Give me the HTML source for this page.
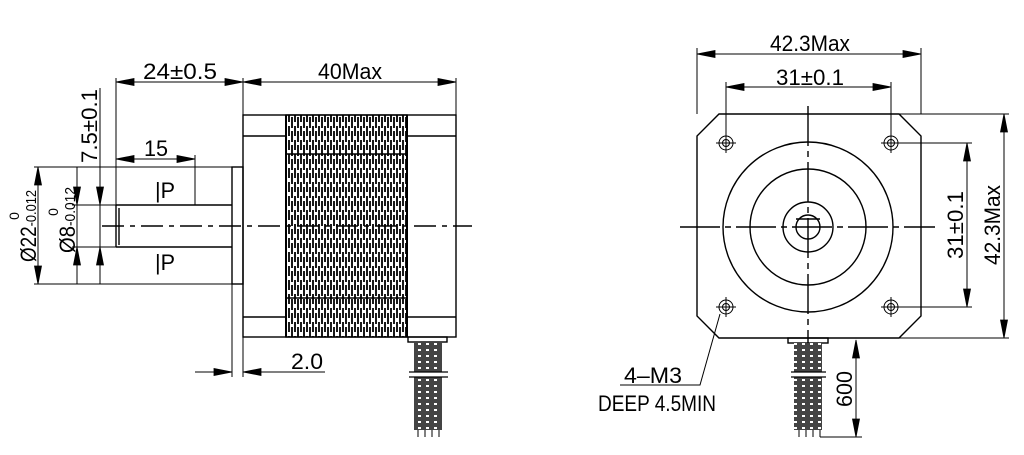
<!DOCTYPE html>
<html><head><style>body{margin:0;background:#fff}svg{display:block}text{font-family:"Liberation Sans",sans-serif;fill:#000}</style></head><body>
<svg width="1024" height="455" viewBox="0 0 1024 455" xmlns="http://www.w3.org/2000/svg">
<defs>
<pattern id="lam" width="6" height="14" patternUnits="userSpaceOnUse">
<line x1="1" y1="0" x2="1" y2="10" stroke="#000" stroke-width="1.8"/>
<line x1="4" y1="5" x2="4" y2="14" stroke="#000" stroke-width="1.8"/>
<line x1="4" y1="0" x2="4" y2="2" stroke="#000" stroke-width="1.8"/>
</pattern>
<pattern id="wire" width="8" height="6" patternUnits="userSpaceOnUse">
<rect width="8" height="6" fill="#444"/><rect x="2" y="1" width="3" height="2" fill="#fff"/>
</pattern>
</defs>
<g stroke="#000" stroke-width="1.4" fill="none">
<rect x="243" y="115" width="213" height="222"/>
<rect x="286" y="115" width="121" height="222" fill="url(#lam)"/>
<line x1="286" y1="115" x2="286" y2="337" stroke-width="2"/>
<line x1="407" y1="115" x2="407" y2="337" stroke-width="2"/>
<line x1="243" y1="136" x2="286" y2="136"/><line x1="407" y1="136" x2="456" y2="136"/>
<line x1="243" y1="317" x2="286" y2="317"/><line x1="407" y1="317" x2="456" y2="317"/>
<line x1="286" y1="154" x2="407" y2="154"/><line x1="286" y1="298" x2="407" y2="298"/>
<rect x="232" y="167" width="11" height="117"/>
<line x1="116" y1="205" x2="232" y2="205"/><line x1="116" y1="247" x2="232" y2="247"/>
<line x1="116" y1="205" x2="116" y2="247"/><line x1="119" y1="208" x2="119" y2="245"/>
<line x1="102" y1="226" x2="472" y2="226" stroke-dasharray="22,6,5,6"/>
<line x1="116" y1="78" x2="116" y2="205" stroke-width="1"/>
<line x1="243" y1="78" x2="243" y2="115" stroke-width="1"/>
<line x1="456" y1="78" x2="456" y2="115" stroke-width="1"/>
<line x1="116" y1="82" x2="456" y2="82" stroke-width="1"/>
<line x1="195" y1="155" x2="195" y2="205" stroke-width="1"/>
<line x1="116" y1="159" x2="195" y2="159" stroke-width="1"/>
<line x1="34" y1="167" x2="232" y2="167" stroke-width="1"/>
<line x1="34" y1="284" x2="232" y2="284" stroke-width="1"/>
<line x1="72" y1="205" x2="116" y2="205" stroke-width="1"/>
<line x1="72" y1="247" x2="116" y2="247" stroke-width="1"/>
<line x1="38" y1="167" x2="38" y2="284" stroke-width="1"/>
<line x1="77" y1="167" x2="77" y2="284" stroke-width="1"/>
<line x1="100" y1="88" x2="100" y2="284" stroke-width="1"/>
<line x1="232" y1="284" x2="232" y2="377" stroke-width="1"/>
<line x1="243" y1="337" x2="243" y2="377" stroke-width="1"/>
<line x1="195" y1="372" x2="232" y2="372" stroke-width="1"/>
<line x1="325" y1="372" x2="243" y2="372" stroke-width="1"/>
<rect x="408" y="337" width="39" height="5"/>
<rect x="414" y="342" width="28" height="88" fill="url(#wire)" stroke="none"/>
<g stroke-width="1"><line x1="418" y1="430" x2="418" y2="437"/><line x1="425" y1="430" x2="425" y2="437"/><line x1="432" y1="430" x2="432" y2="437"/><line x1="439" y1="430" x2="439" y2="437"/></g>
<rect x="412" y="372" width="34" height="5" fill="#fff" stroke="none"/>
<line x1="409" y1="372" x2="448" y2="372" stroke-width="1.2"/><line x1="409" y1="377" x2="448" y2="377" stroke-width="1.2"/>
<path d="M719,114H899L921,136V316L899,338H719L697,316V136Z"/>
<circle cx="808" cy="227" r="85"/><circle cx="808" cy="227" r="58"/><circle cx="808" cy="227" r="25"/><circle cx="808" cy="227" r="12"/>
<line x1="796" y1="219" x2="820" y2="219"/>
<g stroke-width="1"><circle cx="726" cy="143" r="7"/><circle cx="726" cy="143" r="3.5"/><circle cx="891" cy="143" r="7"/><circle cx="891" cy="143" r="3.5"/><circle cx="726" cy="307" r="7"/><circle cx="726" cy="307" r="3.5"/><circle cx="891" cy="307" r="7"/><circle cx="891" cy="307" r="3.5"/>
<path d="M716,143h20M726,133v20M881,143h20M891,133v20M716,307h20M726,297v20M881,307h20M891,297v20"/></g>
<line x1="680" y1="227" x2="935" y2="227" stroke-dasharray="40,5,6,5"/>
<line x1="808" y1="106" x2="808" y2="352" stroke-dasharray="40,5,6,5"/>
<line x1="697" y1="48" x2="697" y2="114" stroke-width="1"/><line x1="921" y1="48" x2="921" y2="114" stroke-width="1"/>
<line x1="697" y1="54" x2="921" y2="54" stroke-width="1"/>
<line x1="726" y1="82" x2="726" y2="133" stroke-width="1"/><line x1="891" y1="82" x2="891" y2="133" stroke-width="1"/>
<line x1="726" y1="87" x2="891" y2="87" stroke-width="1"/>
<line x1="901" y1="143" x2="972" y2="143" stroke-width="1"/><line x1="901" y1="307" x2="972" y2="307" stroke-width="1"/>
<line x1="967" y1="143" x2="967" y2="307" stroke-width="1"/>
<line x1="899" y1="114" x2="1009" y2="114" stroke-width="1"/><line x1="899" y1="338" x2="1009" y2="338" stroke-width="1"/>
<line x1="1004" y1="114" x2="1004" y2="338" stroke-width="1"/>
<rect x="788" y="338" width="40" height="5"/>
<rect x="794" y="343" width="28" height="87" fill="url(#wire)" stroke="none"/>
<g stroke-width="1"><line x1="799" y1="430" x2="799" y2="437"/><line x1="806" y1="430" x2="806" y2="437"/><line x1="813" y1="430" x2="813" y2="437"/><line x1="820" y1="430" x2="820" y2="437"/></g>
<rect x="792" y="372" width="32" height="5" fill="#fff" stroke="none"/>
<line x1="791" y1="372" x2="826" y2="372" stroke-width="1.2"/><line x1="791" y1="377" x2="826" y2="377" stroke-width="1.2"/>
<line x1="820" y1="437" x2="862" y2="437" stroke-width="1"/>
<line x1="856" y1="340" x2="856" y2="437" stroke-width="1"/>
<polyline points="720,314 700,385 620,385" stroke-width="1"/>
</g>
<g fill="#000" stroke="#000" stroke-width="0.8">
<path d="M116,82l18,-3.5v7zM243,82l18,-3.5v7zM116,159l18,-3.5v7zM243,372l18,-3.5v7zM697,54l18,-3.5v7zM726,87l18,-3.5v7z"/>
<path d="M243,82l-18,-3.5v7zM456,82l-18,-3.5v7zM195,159l-18,-3.5v7zM232,372l-18,-3.5v7zM921,54l-18,-3.5v7zM891,87l-18,-3.5v7z"/>
<path d="M38,167l-3.5,18h7zM77,247l-3.5,18h7zM100,247l-3.5,18h7zM967,143l-3.5,18h7zM1004,114l-3.5,18h7zM856,340l-3.5,18h7z"/>
<path d="M38,284l-3.5,-18h7zM77,205l-3.5,-18h7zM100,205l-3.5,-18h7zM967,307l-3.5,-18h7zM1004,338l-3.5,-18h7zM856,437l-3.5,-18h7z"/>
</g>
<g font-size="22">
<text x="180" y="79" text-anchor="middle" textLength="74" lengthAdjust="spacingAndGlyphs">24±0.5</text>
<text x="350" y="79" text-anchor="middle" textLength="64" lengthAdjust="spacingAndGlyphs">40Max</text>
<text x="156" y="156" text-anchor="middle" textLength="24" lengthAdjust="spacingAndGlyphs">15</text>
<text x="155" y="198" textLength="20" lengthAdjust="spacingAndGlyphs">|P</text>
<text x="155" y="270" textLength="20" lengthAdjust="spacingAndGlyphs">|P</text>
<text x="307" y="369" text-anchor="middle" textLength="32" lengthAdjust="spacingAndGlyphs">2.0</text>
<text transform="translate(97,126) rotate(-90)" text-anchor="middle" textLength="74" lengthAdjust="spacingAndGlyphs">7.5±0.1</text>
<text transform="translate(36,226) rotate(-90)" text-anchor="middle" textLength="72" lengthAdjust="spacingAndGlyphs">Ø22<tspan font-size="15">-0.012</tspan></text>
<text transform="translate(19,216) rotate(-90)" font-size="14" text-anchor="middle">0</text>
<text transform="translate(75,220) rotate(-90)" text-anchor="middle" textLength="66" lengthAdjust="spacingAndGlyphs">Ø8<tspan font-size="15">-0.012</tspan></text>
<text transform="translate(58,212) rotate(-90)" font-size="14" text-anchor="middle">0</text>
<text x="810" y="51" text-anchor="middle" textLength="80" lengthAdjust="spacingAndGlyphs">42.3Max</text>
<text x="810" y="85" text-anchor="middle" textLength="68" lengthAdjust="spacingAndGlyphs">31±0.1</text>
<text transform="translate(963,225) rotate(-90)" text-anchor="middle" textLength="68" lengthAdjust="spacingAndGlyphs">31±0.1</text>
<text transform="translate(1000,225) rotate(-90)" text-anchor="middle" textLength="80" lengthAdjust="spacingAndGlyphs">42.3Max</text>
<text transform="translate(852,389) rotate(-90)" text-anchor="middle" textLength="36" lengthAdjust="spacingAndGlyphs">600</text>
<text x="624" y="383" textLength="58" lengthAdjust="spacingAndGlyphs">4–M3</text>
<text x="598" y="411" textLength="118" lengthAdjust="spacingAndGlyphs">DEEP 4.5MIN</text>
</g>
</svg>
</body></html>
